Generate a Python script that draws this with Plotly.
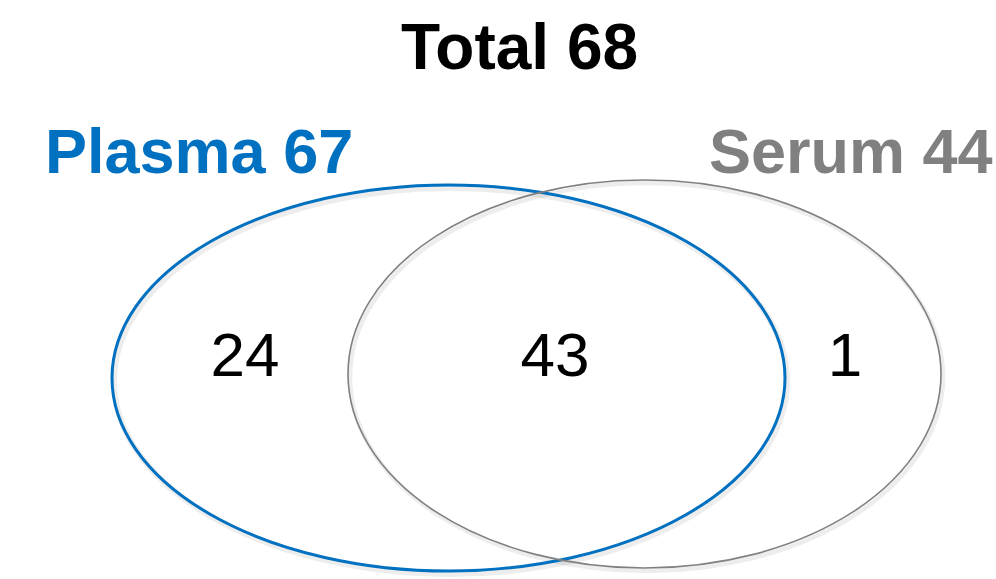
import plotly.graph_objects as go

# Data
set_names = ["Plasma", "Serum"]
set_totals = [67, 44]
total = 68
region_labels = ["Plasma only", "Both", "Serum only"]
region_counts = [24, 43, 1]

W, H = 996, 579
BLUE = "#0070C0"
GRAY = "#808080"
FONT = "Liberation Sans, Arial, sans-serif"

fig = go.Figure()

# ellipse geometry (pixel coords, y downward)
plasma_box = (112, 185, 785, 571)
serum_box = (348, 180, 941, 568)

shapes = []
for (x0, y0, x1, y1), col, w in [(plasma_box, BLUE, 3), (serum_box, GRAY, 1.6)]:
    # soft shadow
    shapes.append(dict(type="circle", xref="x", yref="y", x0=x0 + 2, y0=y0 + 3, x1=x1 + 2, y1=y1 + 3,
                       line=dict(color="rgba(0,0,0,0.07)", width=w + 3)))
for (x0, y0, x1, y1), col, w in [(plasma_box, BLUE, 3), (serum_box, GRAY, 1.6)]:
    shapes.append(dict(type="circle", xref="x", yref="y", x0=x0, y0=y0, x1=x1, y1=y1,
                       line=dict(color=col, width=w)))

# region counts as a text trace
fig.add_trace(go.Scatter(
    x=[245, 555, 845], y=[360, 360, 360],
    mode="text", text=[str(v) for v in region_counts],
    textfont=dict(family=FONT, size=62, color="black"),
    hoverinfo="skip", showlegend=False))

annotations = [
    dict(x=519, y=47, text=f"<b>Total {total}</b>", font=dict(family=FONT, size=64, color="black")),
    dict(x=199, y=151, text=f"<b>{set_names[0]} {set_totals[0]}</b>", font=dict(family=FONT, size=63, color=BLUE)),
    dict(x=851, y=151, text=f"<b>{set_names[1]} {set_totals[1]}</b>", font=dict(family=FONT, size=63, color=GRAY)),
]
for a in annotations:
    a.update(xref="x", yref="y", showarrow=False, xanchor="center", yanchor="middle")

fig.update_layout(
    width=W, height=H,
    margin=dict(l=0, r=0, t=0, b=0),
    paper_bgcolor="white", plot_bgcolor="white",
    xaxis=dict(range=[0, W], visible=False, fixedrange=True),
    yaxis=dict(range=[H, 0], visible=False, fixedrange=True),
    shapes=shapes, annotations=annotations,
    showlegend=False,
)

fig.write_html("out.html", config={"displayModeBar": False},
               post_script="document.body.style.margin='0';document.body.style.overflow='hidden';")
